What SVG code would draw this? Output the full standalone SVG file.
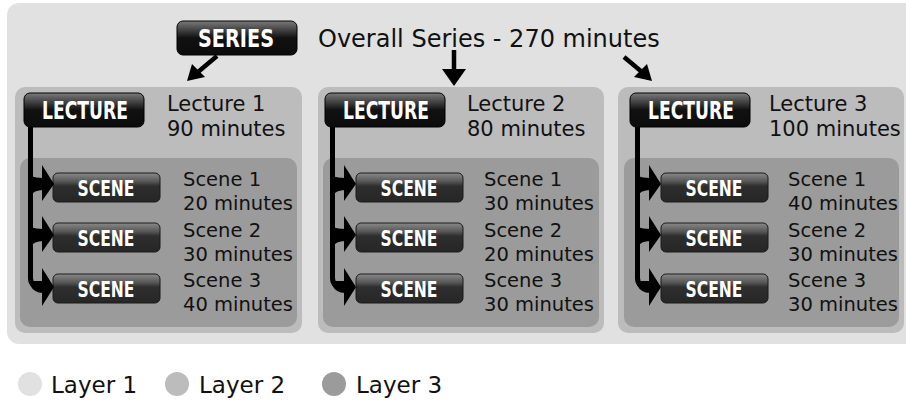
<svg xmlns="http://www.w3.org/2000/svg" width="906" height="403" viewBox="0 0 906 403">
<defs>
<linearGradient id="gBlack" x1="0" y1="0" x2="0" y2="1">
<stop offset="0" stop-color="#7a7a7a"/>
<stop offset="0.38" stop-color="#2a2a2a"/>
<stop offset="0.5" stop-color="#111"/>
<stop offset="1" stop-color="#0c0c0c"/>
</linearGradient>
<linearGradient id="gScene" x1="0" y1="0" x2="0" y2="1">
<stop offset="0" stop-color="#8a8a8a"/>
<stop offset="0.3" stop-color="#555"/>
<stop offset="0.45" stop-color="#2e2e2e"/>
<stop offset="1" stop-color="#262626"/>
</linearGradient>
<g id="sceneArrows">
<path d="M30.5 127 V278 Q30.5 287 42 287" fill="none" stroke="#000" stroke-width="5"/>
<path d="M30 176 Q36 178 43 178 V190 Q34 190 30 196 Z" fill="#000"/>
<polygon points="42,165 54,184 42,201"/>
<path d="M30 227 Q36 229 43 229 V241 Q34 241 30 247 Z" fill="#000"/>
<polygon points="42,216 54,235 42,252"/>
<path d="M30 281 Q36 281 43 281 V293 Q34 293 30 285 Z" fill="#000"/>
<polygon points="42,268 54,287 42,306"/>
</g>
</defs>
<style>
.l1{fill:#e1e1e1}
.l2{fill:#bcbcbc}
.l3{fill:#9b9b9b}
.txt{font-family:"DejaVu Sans",Verdana,sans-serif;fill:#111}
.big{font-size:21px}
.sm{font-size:19.5px}
.badge{fill:url(#gBlack);stroke:#000;stroke-width:1}
.sbadge{fill:url(#gScene);stroke:#1a1a1a;stroke-width:1}
.btxt{font-family:"DejaVu Sans Condensed","DejaVu Sans",sans-serif;font-stretch:condensed;font-weight:bold;fill:#fff;text-anchor:middle}
</style>

<rect class="l1" x="7" y="3" width="930" height="341" rx="12"/>

<g id="layers">
<rect class="l2" x="15" y="87" width="287" height="246" rx="10"/>
<rect class="l3" x="20" y="158" width="277" height="169" rx="10"/>
<rect class="l2" x="318" y="87" width="286" height="246" rx="10"/>
<rect class="l3" x="323" y="158" width="276" height="169" rx="10"/>
<rect class="l2" x="618" y="87" width="286" height="246" rx="10"/>
<rect class="l3" x="624" y="158" width="275" height="169" rx="10"/>
</g>

<g id="series">
<rect class="badge" x="177" y="21" width="120" height="34" rx="6"/>
<text class="btxt" x="236" y="47" font-size="24" textLength="76" lengthAdjust="spacingAndGlyphs">SERIES</text>
<text class="txt" x="318" y="47" font-size="24">Overall Series - 270 minutes</text>
</g>

<g id="lecture1">
<rect class="badge" x="24" y="93" width="120" height="34" rx="6"/>
<text class="btxt" x="85" y="119" font-size="24" textLength="86" lengthAdjust="spacingAndGlyphs">LECTURE</text>
<text class="txt big" x="167" y="111">Lecture 1</text>
<text class="txt big" x="167" y="136">90 minutes</text>
</g>
<g id="lecture2">
<rect class="badge" x="325" y="93" width="120" height="34" rx="6"/>
<text class="btxt" x="386" y="119" font-size="24" textLength="86" lengthAdjust="spacingAndGlyphs">LECTURE</text>
<text class="txt big" x="467" y="111">Lecture 2</text>
<text class="txt big" x="467" y="136">80 minutes</text>
</g>
<g id="lecture3">
<rect class="badge" x="630" y="93" width="120" height="34" rx="6"/>
<text class="btxt" x="691" y="119" font-size="24" textLength="86" lengthAdjust="spacingAndGlyphs">LECTURE</text>
<text class="txt big" x="769" y="111">Lecture 3</text>
<text class="txt big" x="769" y="136">100 minutes</text>
</g>

<g id="scene1-1"><rect class="sbadge" x="53" y="173" width="107" height="29" rx="5"/><text class="btxt" x="106" y="196" font-size="21" textLength="57" lengthAdjust="spacingAndGlyphs">SCENE</text><text class="txt sm" x="183" y="186">Scene 1</text><text class="txt sm" x="183" y="210">20 minutes</text></g>
<g id="scene1-2"><rect class="sbadge" x="53" y="223" width="107" height="29" rx="5"/><text class="btxt" x="106" y="246" font-size="21" textLength="57" lengthAdjust="spacingAndGlyphs">SCENE</text><text class="txt sm" x="183" y="237">Scene 2</text><text class="txt sm" x="183" y="261">30 minutes</text></g>
<g id="scene1-3"><rect class="sbadge" x="53" y="274" width="107" height="29" rx="5"/><text class="btxt" x="106" y="297" font-size="21" textLength="57" lengthAdjust="spacingAndGlyphs">SCENE</text><text class="txt sm" x="183" y="287">Scene 3</text><text class="txt sm" x="183" y="311">40 minutes</text></g>

<g id="scene2-1"><rect class="sbadge" x="356" y="173" width="107" height="29" rx="5"/><text class="btxt" x="409" y="196" font-size="21" textLength="57" lengthAdjust="spacingAndGlyphs">SCENE</text><text class="txt sm" x="484" y="186">Scene 1</text><text class="txt sm" x="484" y="210">30 minutes</text></g>
<g id="scene2-2"><rect class="sbadge" x="356" y="223" width="107" height="29" rx="5"/><text class="btxt" x="409" y="246" font-size="21" textLength="57" lengthAdjust="spacingAndGlyphs">SCENE</text><text class="txt sm" x="484" y="237">Scene 2</text><text class="txt sm" x="484" y="261">20 minutes</text></g>
<g id="scene2-3"><rect class="sbadge" x="356" y="274" width="107" height="29" rx="5"/><text class="btxt" x="409" y="297" font-size="21" textLength="57" lengthAdjust="spacingAndGlyphs">SCENE</text><text class="txt sm" x="484" y="287">Scene 3</text><text class="txt sm" x="484" y="311">30 minutes</text></g>

<g id="scene3-1"><rect class="sbadge" x="661" y="173" width="107" height="29" rx="5"/><text class="btxt" x="714" y="196" font-size="21" textLength="57" lengthAdjust="spacingAndGlyphs">SCENE</text><text class="txt sm" x="788" y="186">Scene 1</text><text class="txt sm" x="788" y="210">40 minutes</text></g>
<g id="scene3-2"><rect class="sbadge" x="661" y="223" width="107" height="29" rx="5"/><text class="btxt" x="714" y="246" font-size="21" textLength="57" lengthAdjust="spacingAndGlyphs">SCENE</text><text class="txt sm" x="788" y="237">Scene 2</text><text class="txt sm" x="788" y="261">30 minutes</text></g>
<g id="scene3-3"><rect class="sbadge" x="661" y="274" width="107" height="29" rx="5"/><text class="btxt" x="714" y="297" font-size="21" textLength="57" lengthAdjust="spacingAndGlyphs">SCENE</text><text class="txt sm" x="788" y="287">Scene 3</text><text class="txt sm" x="788" y="311">30 minutes</text></g>

<g id="connectors">
<line x1="217" y1="56" x2="198" y2="72" stroke="#000" stroke-width="4.5"/>
<polygon points="187,81 192,64 205,77"/>
<line x1="454" y1="50" x2="454" y2="72" stroke="#000" stroke-width="4.5"/>
<polygon points="442,69 466,69 454,86"/>
<line x1="624" y1="57" x2="642" y2="72" stroke="#000" stroke-width="4.5"/>
<polygon points="652,81 634,77 647,64"/>
<use href="#sceneArrows"/>
<use href="#sceneArrows" x="302"/>
<use href="#sceneArrows" x="607"/>
</g>

<g id="legend">
<circle class="l1" cx="30" cy="384" r="12"/>
<text class="txt" x="51" y="393" font-size="23">Layer 1</text>
<circle class="l2" cx="177" cy="384" r="12"/>
<text class="txt" x="199" y="393" font-size="23">Layer 2</text>
<circle class="l3" cx="334" cy="384" r="12"/>
<text class="txt" x="356" y="393" font-size="23">Layer 3</text>
</g>
</svg>
